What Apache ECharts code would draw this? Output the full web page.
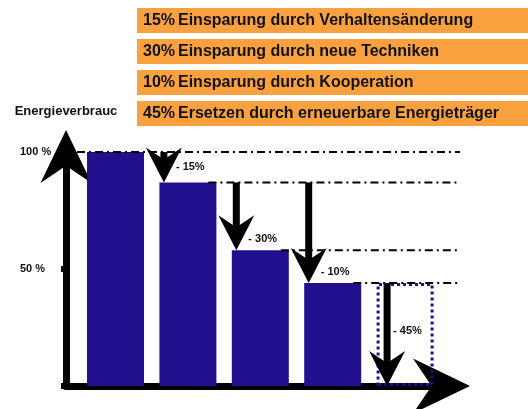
<!DOCTYPE html>
<html><head><meta charset="utf-8">
<script src="https://cdn.jsdelivr.net/npm/echarts@6/dist/echarts.min.js"></script>
<style>html,body{margin:0;padding:0;background:#fff}#c{width:528px;height:409px}</style>
</head><body><div id="c"></div>
<script>
// ---- data ----
const barValues = [100, 87, 58, 44, 44];
const barDotted = [false, false, false, false, true];
const levelLines = [100, 87, 58, 44];
const arrowFrom = [100, 87, 87, 44];
const arrowTo = [87, 58, 44, 0];
const arrowTargets = [1, 2, 3, 4];
const arrowLabels = ['- 15%', '- 30%', '- 10%', '- 45%'];
const boxPercents = ['15%', '30%', '10%', '45%'];
const boxTexts = [
  'Einsparung durch Verhaltensänderung',
  'Einsparung durch neue Techniken',
  'Einsparung durch Kooperation',
  'Ersetzen durch erneuerbare Energieträger'
];
const yTickLabels = { 50: '50 %', 100: '100 %' };
const yName = 'Energieverbrauc';

// ---- styling ----
const FONT = 'Liberation Sans, Arial, sans-serif';
const BLUE = '#21108E';
const ORANGE = '#F9A03F';
const ARROW = 'path://M25,0 L50,52 L25,35 L0,52 Z';
const BAR_W = 57;

const chart = echarts.init(document.getElementById('c'), null, { renderer: 'canvas' });

const graphic = [];
boxTexts.forEach((t, i) => {
  const y = 8 + i * 31;
  graphic.push({ type: 'rect', z: 0, shape: { x: 137, y: y, width: 391, height: 25 }, style: { fill: ORANGE } });
  graphic.push({ type: 'text', z: 1, style: { x: 143, y: y + 12.5, text: boxPercents[i], fontSize: 16, fontWeight: 'bold', fontFamily: FONT, fill: '#111', verticalAlign: 'middle' } });
  graphic.push({ type: 'text', z: 1, style: { x: 178, y: y + 12.5, text: t, fontSize: 16, fontWeight: 'bold', fontFamily: FONT, fill: '#111', verticalAlign: 'middle' } });
});

chart.setOption({
  animation: false,
  backgroundColor: '#fff',
  grid: { left: 66, top: 152, right: 86.5, bottom: 23, containLabel: false, outerBoundsMode: 'none' },
  xAxis: {
    type: 'value', min: 0.316, max: 5.503,
    axisLine: { show: true, onZero: false, symbol: ['none', ARROW], symbolSize: [58, 57], symbolOffset: [0, 0], lineStyle: { color: '#000', width: 7 } },
    axisTick: { show: false }, axisLabel: { show: false }, splitLine: { show: false }
  },
  yAxis: {
    type: 'value', min: 0, max: 100, interval: 50,
    name: yName, nameLocation: 'end', nameGap: 34,
    nameTextStyle: { fontSize: 13, fontWeight: 'bold', fontFamily: FONT, color: '#111' },
    axisLine: { show: true, onZero: false, symbol: ['none', ARROW], symbolSize: [51, 53], symbolOffset: [0, -4.5], lineStyle: { color: '#000', width: 7 } },
    axisTick: { show: true, length: 5, lineStyle: { color: '#000', width: 6 } },
    axisLabel: {
      formatter: v => yTickLabels[v] || '',
      align: 'left', margin: 46, fontSize: 11, fontWeight: 'bold', fontFamily: FONT, color: '#111'
    },
    splitLine: { show: false }
  },
  graphic: graphic,
  series: [
    {
      type: 'bar', z: 2, barWidth: BAR_W, clip: false,
      data: barValues.map((v, i) => ({
        value: [i + 1, v],
        itemStyle: barDotted[i]
          ? { color: 'rgba(0,0,0,0)', borderColor: BLUE, borderWidth: 3, borderType: [3, 3] }
          : { color: BLUE }
      }))
    },
    {
      type: 'custom', z: 3, clip: false,
      data: levelLines.map((v, i) => [i + 1, v]),
      renderItem: (params, api) => {
        const i = params.dataIndex;
        const c = api.coord([api.value(0), api.value(1)]);
        const x0 = i === 0 ? c[0] - BAR_W / 2 - 10 : c[0] + BAR_W / 2 - 8;
        const xEnd = api.coord([barValues.length, 0])[0] + 55;
        return { type: 'line', shape: { x1: x0, y1: c[1], x2: xEnd, y2: c[1] }, style: { stroke: '#000', lineWidth: 2, lineDash: [8, 4, 2, 4] } };
      }
    },
    {
      type: 'custom', z: 4, clip: false,
      data: arrowFrom.map((f, i) => [arrowTargets[i] + 1, f, arrowTo[i]]),
      renderItem: (params, api) => {
        const i = params.dataIndex;
        const last = i === arrowFrom.length - 1;
        const a = api.coord([api.value(0), api.value(1)]);
        const b = api.coord([api.value(0), api.value(2)]);
        const x = a[0] - (last ? 18 : 24);
        const y0 = a[1], y1 = b[1];
        const headH = 35, headW = 36, notch = 23, shaftW = 7;
        const mid = (y0 + y1) / 2;
        const ly = (i === 0) ? mid : (last ? mid - 4 : y1 - 11);
        const lx = last ? x + 6 : x + 12;
        return {
          type: 'group',
          children: [
            { type: 'rect', shape: { x: x - shaftW / 2, y: y0, width: shaftW, height: Math.max(0, y1 - notch - y0 + 2) }, style: { fill: '#000' } },
            { type: 'polygon', shape: { points: [[x, y1], [x + headW / 2, y1 - headH], [x, y1 - notch], [x - headW / 2, y1 - headH]] }, style: { fill: '#000' } },
            { type: 'text', style: { x: lx, y: ly, text: arrowLabels[i], fontSize: 11, fontWeight: 'bold', fontFamily: FONT, fill: '#111', verticalAlign: 'middle' } }
          ]
        };
      }
    }
  ]
});
</script></body></html>
